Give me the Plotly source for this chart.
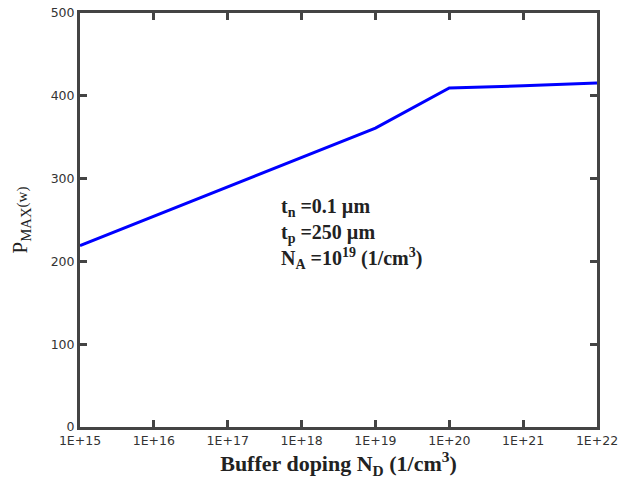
import plotly.graph_objects as go

doping = [1e15, 1e16, 1e17, 1e18, 1e19, 1e20, 1e21, 1e22]
pmax = [219, 254.5, 290, 325.5, 361, 409.5, 412, 415.5]
x_tickvals = [1e15, 1e16, 1e17, 1e18, 1e19, 1e20, 1e21, 1e22]
x_ticktext = ["1E+15", "1E+16", "1E+17", "1E+18", "1E+19", "1E+20", "1E+21", "1E+22"]
y_tickvals = [0, 100, 200, 300, 400, 500]

fig = go.Figure()
fig.add_trace(go.Scatter(x=doping, y=pmax, mode="lines",
                         line=dict(color="#0000ff", width=3), showlegend=False))

axis_common = dict(showline=True, linewidth=3, linecolor="#444444", mirror="allticks",
                   ticks="inside", ticklen=7, tickwidth=3, tickcolor="#444444",
                   showgrid=False, zeroline=False, automargin=False,
                   ticklabeloverflow="allow",
                   tickfont=dict(family="DejaVu Sans, sans-serif", size=12.5, color="#333333"))

fig.update_xaxes(type="log", range=[15, 22], tickvals=x_tickvals, ticktext=x_ticktext,
                 title=dict(text="<b>Buffer doping N<sub>D</sub> (1/cm<sup>3</sup>)</b>",
                            font=dict(family="Liberation Serif, Times New Roman, serif", size=22, color="#222"),
                            standoff=4),
                 **axis_common)
fig.update_yaxes(range=[0, 500], tickvals=y_tickvals,
                 title=dict(text="P<sub>MAX</sub><span style='font-size:15px'>(w)</span>",
                            font=dict(family="Liberation Serif, Times New Roman, serif", size=21, color="#222"),
                            standoff=24),
                 **axis_common)

fig.add_annotation(x=0.385, y=0.468, xref="paper", yref="paper", xanchor="left", yanchor="middle",
                   showarrow=False, align="left",
                   text="<b>t<sub>n</sub> =0.1 µm<br>t<sub>p</sub> =250 µm<br>N<sub>A</sub> =10<sup>19</sup> (1/cm<sup>3</sup>)</b>",
                   font=dict(family="Liberation Serif, Times New Roman, serif", size=20, color="#222"))

fig.update_layout(width=631, height=480, margin=dict(l=72, r=42, t=5, b=61),
                  plot_bgcolor="white", paper_bgcolor="white")

fig.write_html("out.html")
